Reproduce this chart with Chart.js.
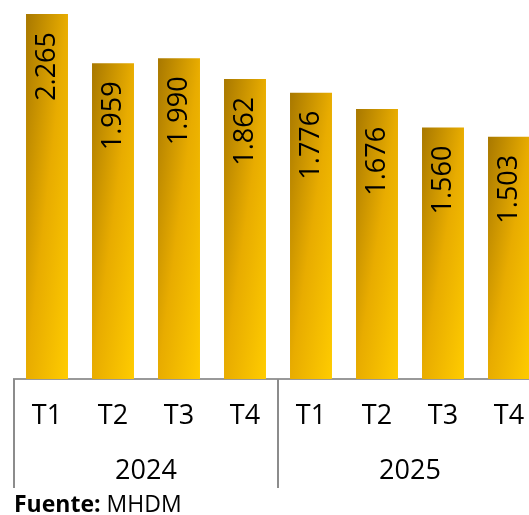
<!DOCTYPE html>
<html>
<head>
<meta charset="utf-8">
<script src="https://cdn.jsdelivr.net/npm/chart.js@4.4.1/dist/chart.umd.min.js"></script>
<style>
  html, body { margin: 0; padding: 0; background: #fff; overflow: hidden; }
  #wrap { position: relative; width: 529px; height: 515px; overflow: hidden; }
  #graph { position: absolute; left: 0; top: 0; }
  #source {
    position: absolute; left: 14px; top: 491px;
    font-family: "Open Sans", sans-serif; font-size: 23px; line-height: 24px; color: #000;
  }
</style>
</head>
<body>
<div id="wrap">
  <canvas id="graph" width="542" height="488"></canvas>
  <div id="source"><b>Fuente:</b> MHDM</div>
</div>
<script>
const quarters = ['T1', 'T2', 'T3', 'T4', 'T1', 'T2', 'T3', 'T4'];
const years = ['2024', '2025'];
const values = [2265, 1959, 1990, 1862, 1776, 1676, 1560, 1503];

const FONT = '"Open Sans", sans-serif';
const BAR_PCT = 0.636;

function formatValue(v) {
    return String(v).replace(/\B(?=(\d{3})+(?!\d))/g, '.');
}

// gradient scaled to each bar: dark top-left, bright bottom-right
function barGradient(context) {
    const chart = context.chart;
    const { ctx, chartArea, scales } = chart;
    if (!chartArea || context.dataIndex === undefined) return '#e0a800';
    const i = context.dataIndex;
    const cat = scales.x.getPixelForValue(1) - scales.x.getPixelForValue(0);
    const w = cat * BAR_PCT;
    const left = scales.x.getPixelForValue(i) - w / 2;
    const top = scales.y.getPixelForValue(values[i]);
    const h = scales.y.getPixelForValue(0) - top;
    const k = 2 * w * h / (h * h + w * w);
    const g = ctx.createLinearGradient(left, top, left + h * k, top + w * k);
    g.addColorStop(0, '#a87800');
    g.addColorStop(0.5, '#e8ac00');
    g.addColorStop(1, '#ffcc00');
    return g;
}

const valueLabels = {
    id: 'valueLabels',
    afterDatasetsDraw(chart) {
        const ctx = chart.ctx;
        const meta = chart.getDatasetMeta(0);
        ctx.save();
        ctx.fillStyle = '#000';
        ctx.font = '27px ' + FONT;
        ctx.textAlign = 'right';
        ctx.textBaseline = 'middle';
        meta.data.forEach((bar, i) => {
            ctx.save();
            ctx.translate(bar.x, bar.y + 18);
            ctx.rotate(-Math.PI / 2);
            ctx.fillText(formatValue(values[i]), 0, 0);
            ctx.restore();
        });
        ctx.restore();
    }
};

// vertical lines separating the year groups
const groupLines = {
    id: 'groupLines',
    afterDraw(chart) {
        const ctx = chart.ctx;
        const x = chart.scales.x;
        const x2 = chart.scales.x2;
        const cat = x.getPixelForValue(1) - x.getPixelForValue(0);
        ctx.save();
        ctx.strokeStyle = '#8c8c8c';
        ctx.lineWidth = 2;
        [0, 4].forEach(i => {
            const px = Math.round(x.getPixelForValue(i) - cat / 2);
            ctx.beginPath();
            ctx.moveTo(px, chart.chartArea.bottom);
            ctx.lineTo(px, x2.bottom);
            ctx.stroke();
        });
        ctx.restore();
    }
};

const ctx = document.getElementById('graph').getContext('2d');
new Chart(ctx, {
    type: 'bar',
    data: {
        labels: quarters,
        datasets: [{
            data: values,
            backgroundColor: barGradient,
            borderWidth: 0,
            categoryPercentage: 1,
            barPercentage: BAR_PCT
        }]
    },
    options: {
        responsive: false,
        animation: false,
        layout: { padding: { left: 14, top: 14, right: 0, bottom: 0 } },
        plugins: { legend: { display: false }, tooltip: { enabled: false } },
        scales: {
            y: { display: false, min: 0, max: 2265 },
            x: {
                grid: { display: false },
                border: { display: true, color: '#999', width: 2 },
                ticks: { color: '#000', font: { family: FONT, size: 27 }, padding: 13, maxRotation: 0, autoSkip: false },
                afterFit(scale) { scale.height = 53; }
            },
            x2: {
                type: 'category',
                position: 'bottom',
                labels: years,
                offset: true,
                grid: { display: false },
                border: { display: false },
                ticks: { color: '#000', font: { family: FONT, size: 27 }, padding: 15, maxRotation: 0 },
                afterFit(scale) { scale.height = 56; }
            }
        }
    },
    plugins: [valueLabels, groupLines]
});
</script>
</body>
</html>
